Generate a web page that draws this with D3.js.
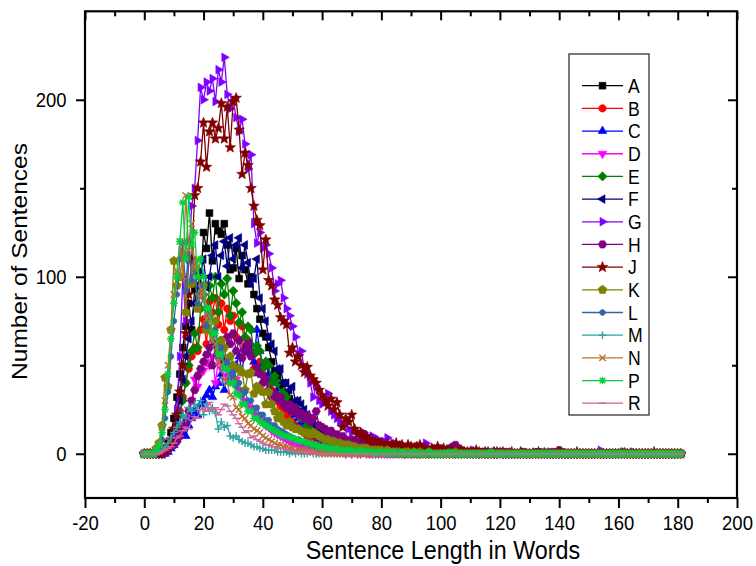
<!DOCTYPE html>
<html>
<head>
<meta charset="utf-8">
<script src="https://cdn.jsdelivr.net/npm/d3@7"></script>
<style>
body{margin:0;background:#fff;}
text{font-family:Arial,"Liberation Sans",sans-serif;fill:#000;}
</style>
</head>
<body>
<div id="chart"></div>
<script>
// sentence counts per length 0..181 words, one array per text
var seriesA=[
0,0,0,0,0,0,1,3,6,12,
20,32,45,60,72,85,70,93,103,95,
125,116,136,109,130,126,124,130,118,104,
105,116,99,112,104,96,100,90,82,76,
68,66,60,52,47,44,37,40,34,31,
28,26,24,21,19,17,15,14,12,11,
10,9,8,7,7,6,5,5,4,4,
3,3,3,2,2,2,2,1,1,2,
1,1,1,0,1,1,0,1,0,0,
1,0,0,1,0,0,0,0,1,0,
0,0,1,0,0,0,0,0,0,0,
0,0,0,0,1,0,0,0,0,0,
0,0,0,0,0,0,0,0,0,0,
0,0,0,1,0,0,0,0,0,0,
0,0,0,0,0,0,0,0,0,0,
0,0,0,0,0,0,0,0,0,0,
0,0,0,0,0,0,0,0,0,0,
0,0,0,0,0,0,0,0,0,0,
0,0];
var seriesB=[
0,0,0,0,0,0,0,1,3,6,
10,16,24,32,40,48,55,60,58,70,
76,62,86,80,88,73,85,70,82,75,
78,66,74,72,61,64,58,48,50,52,
45,42,40,36,33,30,27,25,22,20,
18,16,15,13,12,10,9,8,7,6,
5,5,4,4,3,3,3,2,2,2,
2,1,2,1,1,1,0,1,1,0,
1,0,0,1,0,0,0,1,0,0,
0,0,1,0,0,0,0,0,0,0,
0,0,0,0,0,0,1,0,0,0,
0,0,0,0,0,0,0,0,0,0,
0,0,0,0,0,0,0,0,0,0,
0,0,0,0,0,0,0,0,0,0,
0,0,0,0,0,0,0,0,0,0,
0,0,0,0,0,0,0,0,0,0,
0,0,0,0,0,0,0,0,0,0,
0,0,0,0,0,0,0,0,0,0,
0,0];
var seriesC=[
0,0,0,0,0,0,0,0,1,3,
5,8,15,12,10,16,20,24,22,28,
30,33,36,32,38,40,45,36,49,41,
44,50,55,46,60,57,62,52,70,58,
50,52,45,42,40,36,32,30,28,26,
24,22,20,18,16,14,12,11,10,9,
8,7,6,6,5,4,4,3,3,3,
2,2,2,2,1,1,1,1,1,0,
1,0,1,0,0,1,0,0,0,0,
0,0,0,1,0,0,0,0,0,0,
0,0,0,0,0,0,0,0,0,0,
0,0,0,0,0,0,0,0,1,0,
0,0,0,0,0,0,0,0,0,0,
0,0,0,0,0,0,0,0,0,0,
0,0,0,0,0,0,0,0,0,0,
0,0,0,0,0,0,0,0,0,0,
0,0,0,0,0,0,0,0,0,0,
0,0,0,0,0,0,0,0,0,0,
0,0];
var seriesD=[
0,0,0,0,0,0,0,0,2,4,
6,9,12,16,20,25,30,42,38,45,
47,52,50,55,40,53,48,50,44,46,
40,42,36,34,30,28,26,24,22,20,
18,16,15,13,12,11,10,9,8,7,
6,6,5,5,4,4,3,3,3,2,
2,2,2,1,1,1,1,1,0,1,
0,1,0,0,1,0,0,0,0,0,
0,0,0,0,0,1,0,0,0,0,
0,0,0,0,0,0,0,0,0,0,
0,0,0,0,0,0,0,0,0,0,
0,0,0,0,0,0,0,0,0,0,
0,0,0,0,0,0,0,0,0,0,
0,0,0,0,0,0,0,0,0,0,
0,0,0,0,0,0,0,0,0,0,
0,0,0,0,0,0,0,0,0,0,
0,0,0,0,0,0,0,0,0,0,
0,0,0,0,0,0,0,0,0,0,
0,0];
var seriesE=[
0,0,0,0,0,0,0,1,2,5,
9,15,22,30,40,50,58,68,60,82,
90,72,95,88,100,80,96,90,99,78,
92,85,74,80,66,72,70,56,61,58,
48,52,50,40,44,40,34,35,32,26,
28,26,24,20,20,16,16,15,13,12,
11,10,9,8,7,7,6,5,5,4,
4,3,3,3,2,2,2,2,1,2,
1,1,1,2,1,0,1,1,0,1,
0,1,0,0,1,0,0,1,0,0,
0,0,1,0,0,0,0,0,1,0,
0,0,0,0,0,0,0,0,0,0,
1,0,0,0,0,0,0,0,0,0,
0,0,0,0,0,1,0,0,0,0,
0,0,0,0,0,0,0,0,0,0,
0,0,0,0,0,0,0,0,0,0,
0,1,1,0,0,0,0,0,0,0,
0,0,0,0,0,0,0,0,0,0,
0,0];
var seriesF=[
0,0,0,0,0,0,0,1,3,6,
12,20,30,42,55,65,75,85,95,102,
110,94,100,112,118,100,112,120,106,122,
110,118,122,105,118,108,96,99,110,88,
82,75,66,62,58,48,48,40,40,36,
38,30,30,28,25,22,20,18,16,15,
13,12,11,10,9,8,7,7,6,5,
5,4,4,3,3,3,2,2,2,2,
2,1,1,1,2,1,1,0,1,1,
0,1,0,0,1,0,0,0,1,0,
0,0,0,1,0,0,0,0,0,0,
0,0,0,0,0,0,0,0,0,0,
0,0,0,0,0,0,0,0,0,0,
0,0,0,0,0,0,0,0,0,0,
0,0,0,0,0,0,0,0,0,0,
0,0,0,0,0,0,0,0,0,0,
0,0,0,0,0,0,0,0,0,0,
0,0,0,0,0,0,0,0,0,0,
0,0];
var seriesG=[
0,0,0,0,0,0,0,0,2,5,
10,25,55,100,75,110,140,150,177,207,
200,210,205,212,199,217,210,224,203,195,
200,190,182,189,175,161,169,130,119,125,
116,118,113,105,92,96,98,88,82,78,
72,66,56,58,48,45,40,32,38,30,
28,30,34,24,22,20,18,16,17,14,
12,13,11,10,12,9,8,10,7,8,
6,7,9,5,6,5,4,5,4,3,
4,3,4,3,4,6,3,2,3,2,
3,2,2,1,2,2,1,2,1,1,
1,2,1,1,0,1,1,0,1,0,
0,1,0,0,1,0,0,0,1,0,
0,0,1,0,0,0,0,1,0,0,
0,1,0,0,0,0,0,0,0,0,
0,0,0,0,2,0,0,0,0,0,
0,0,0,0,0,1,0,0,0,0,
0,0,0,0,0,0,0,0,0,0,
0,0];
var seriesH=[
0,0,0,0,0,0,0,1,2,4,
5,7,10,14,18,24,30,36,44,48,
52,56,60,50,62,56,64,52,66,62,
68,58,64,54,58,62,55,46,48,45,
40,42,36,32,34,30,32,28,26,28,
24,26,22,23,20,22,18,20,24,16,
15,14,12,13,10,11,9,10,8,7,
8,6,7,6,5,6,5,4,5,4,
4,3,4,3,3,4,3,2,3,3,
2,3,2,2,3,2,2,1,2,2,
2,1,2,3,4,5,3,2,1,1,
1,1,0,1,1,0,1,0,0,1,
0,0,1,0,0,0,0,0,1,0,
0,0,0,0,0,0,0,0,1,0,
2,1,0,0,0,0,0,0,0,0,
0,0,0,0,0,0,0,0,0,0,
0,0,0,0,0,0,0,0,0,0,
0,0,0,0,0,0,0,0,0,0,
0,0];
var seriesJ=[
0,0,0,0,0,0,1,2,4,8,
14,22,35,50,68,90,110,146,150,165,
187,162,182,187,178,184,198,178,196,173,
199,201,183,158,170,163,150,140,132,129,
104,121,98,95,87,84,77,75,73,57,
60,52,55,50,46,49,44,42,40,36,
33,30,27,31,25,29,22,15,20,18,
22,14,11,12,9,10,8,7,7,6,
6,5,6,4,5,6,4,5,3,5,
4,3,4,5,3,3,2,3,2,4,
2,3,2,1,2,2,1,2,1,1,
1,1,2,1,0,1,1,0,1,1,
0,1,0,0,1,0,0,1,0,0,
0,0,0,1,0,0,0,0,0,0,
1,0,0,0,0,0,1,0,0,0,
0,0,0,0,0,0,0,0,0,0,
0,0,0,0,0,0,0,0,0,0,
0,0,1,0,0,0,0,0,0,0,
0,0];
var seriesK=[
0,0,0,0,3,6,16,43,38,70,
109,95,100,113,80,120,96,105,82,90,
95,70,78,68,75,58,64,60,50,55,
50,40,48,46,36,45,46,34,38,36,
35,28,35,28,24,20,22,18,16,18,
15,14,14,13,12,12,11,12,11,10,
9,8,8,7,7,6,6,5,5,5,
4,4,3,3,3,3,2,2,2,2,
2,1,2,1,1,1,1,0,1,1,
0,1,0,1,0,0,1,0,0,0,
0,0,0,0,0,1,0,0,0,0,
0,0,0,0,0,0,0,0,0,0,
0,0,0,0,0,0,0,0,0,0,
0,0,0,0,0,0,0,0,0,0,
0,0,0,0,0,0,0,0,0,0,
0,0,0,0,0,0,0,0,0,0,
0,0,0,0,0,0,0,0,0,0,
0,0,0,0,0,0,0,0,0,0,
0,0];
var seriesL=[
0,0,0,0,0,2,8,20,35,55,
75,90,110,119,92,120,98,108,85,95,
89,72,78,64,70,58,60,50,52,44,
46,38,40,33,35,30,30,25,26,22,
22,19,19,16,16,14,13,12,11,10,
9,8,8,7,6,6,5,5,4,4,
4,3,3,3,2,2,2,2,1,2,
1,1,1,1,0,1,0,1,0,0,
0,1,0,0,0,0,1,0,0,0,
0,0,0,0,0,0,0,0,0,0,
0,0,0,0,0,0,0,0,0,0,
0,0,0,0,0,0,0,0,0,0,
0,0,0,0,0,0,0,0,0,0,
0,0,0,0,0,0,0,0,0,0,
0,0,0,0,0,0,0,0,0,0,
0,0,0,0,0,0,0,0,0,0,
0,0,0,0,0,0,0,0,0,0,
0,0,0,0,0,0,0,0,0,0,
0,0];
var seriesM=[
0,0,0,0,0,1,2,4,6,9,
12,15,18,22,20,26,24,28,25,30,
22,28,24,26,23,14,18,15,16,10,
9,10,8,7,6,6,5,4,4,3,
3,2,2,2,2,1,1,1,1,0,
1,0,1,0,0,0,1,0,0,0,
0,0,0,0,0,0,0,0,0,0,
0,0,0,0,0,0,0,0,0,0,
0,0,0,0,0,0,0,0,0,0,
0,0,0,0,0,0,0,0,0,0,
0,0,0,0,0,0,0,0,0,0,
0,0,0,0,0,0,0,0,0,0,
0,0,0,0,0,0,0,0,0,0,
0,0,0,0,0,0,0,0,0,0,
0,0,0,0,0,0,0,0,0,0,
0,0,0,0,0,0,0,0,0,0,
0,0,0,0,0,0,0,0,0,0,
0,0,0,0,0,0,0,0,0,0,
0,0];
var seriesN=[
0,0,0,0,2,6,15,30,50,70,
90,103,120,100,146,115,130,105,110,88,
92,76,78,64,62,52,50,42,40,33,
32,26,25,21,20,17,16,14,13,12,
10,9,8,7,6,5,5,4,4,3,
3,2,2,2,2,1,1,1,1,0,
1,0,0,1,0,0,0,0,0,0,
0,0,0,0,0,0,0,0,0,0,
0,0,0,0,0,0,0,0,0,0,
0,0,0,0,0,0,0,0,0,0,
0,0,0,0,0,0,0,0,0,0,
0,0,0,0,0,0,0,0,0,0,
0,0,0,0,0,0,0,0,0,0,
0,0,0,0,0,0,0,0,0,0,
0,0,0,0,0,0,0,0,0,0,
0,0,0,0,0,0,0,0,0,0,
0,0,0,0,0,0,0,0,0,0,
0,0,0,0,0,0,0,0,0,0,
0,0];
var seriesP=[
0,0,0,0,2,5,12,25,45,65,
85,100,120,142,110,145,118,125,100,110,
100,82,82,68,68,56,56,48,48,40,
40,34,33,28,28,24,24,20,20,18,
17,16,15,14,13,12,11,10,10,9,
9,8,8,7,7,6,6,5,5,4,
4,4,3,3,3,3,2,2,2,2,
2,1,1,2,1,1,1,1,0,1,
1,0,1,0,1,0,0,1,0,0,
0,1,0,0,0,0,1,0,0,0,
0,0,0,1,0,0,0,0,0,0,
0,0,0,0,0,0,0,1,0,0,
0,0,0,0,0,0,0,0,0,0,
0,0,0,0,0,0,0,0,0,0,
0,0,0,0,0,0,0,0,0,0,
0,0,0,0,0,0,0,0,0,0,
0,0,0,0,0,0,0,0,0,0,
0,0,0,0,0,0,0,0,0,0,
0,0];
var seriesR=[
0,0,0,0,0,0,1,2,3,4,
6,9,10,13,15,14,19,21,20,25,
26,24,29,25,26,22,25,28,27,24,
22,20,17,15,12,13,9,10,8,7,
6,5,5,4,4,3,3,3,2,2,
2,1,1,1,1,0,1,0,0,0,
0,0,0,0,0,0,0,0,0,0,
0,0,0,0,0,0,0,0,0,0,
0,0,0,0,0,0,0,0,0,0,
0,0,0,0,0,0,0,0,0,0,
0,0,0,0,0,0,0,0,0,0,
0,0,0,0,0,0,0,0,0,0,
0,0,0,0,0,0,0,0,0,0,
0,0,0,0,0,0,0,0,0,0,
0,0,0,0,0,0,0,0,0,0,
0,0,0,0,0,0,0,0,0,0,
0,0,0,0,0,0,0,0,0,0,
0,0,0,0,0,0,0,0,0,0,
0,0];

var names=["A","B","C","D","E","F","G","H","J","K","L","M","N","P","R"];
var xTicks=[-20,0,20,40,60,80,100,120,140,160,180,200];
var xMinor=[-10,10,30,50,70,90,110,130,150,170,190];
var yTicks=[0,100,200];
var yMinor=[50,150];

var series=[seriesA,seriesB,seriesC,seriesD,seriesE,seriesF,seriesG,seriesH,
            seriesJ,seriesK,seriesL,seriesM,seriesN,seriesP,seriesR];
var colors=["#000000","#ff0000","#0000ff","#ff00ff","#008000","#000080","#8000ff",
            "#800080","#800000","#808000","#3366a6","#2fa3a3","#b87333","#00d040","#cc6699"];

var W=756,H=566;
var plot={left:85,right:737,top:11.3,bottom:498};
var squeezeK=0.88;

var x=d3.scaleLinear().domain([-20,200]).range([plot.left,plot.right]);
var y=d3.scaleLinear().domain([-25,250]).range([plot.bottom,plot.top]);

var svg=d3.select("#chart").append("svg")
    .attr("width",W)
    .attr("height",H);
svg.append("rect").attr("width",W).attr("height",H).attr("fill","#fff");

// marker shapes
function poly(n,r,a0){
    var pts=d3.range(n).map(function(i){
        var a=a0+i*2*Math.PI/n;
        return [(r*Math.cos(a)).toFixed(2),(r*Math.sin(a)).toFixed(2)];
    });
    return "M"+pts.join("L")+"Z";
}
function star(r1,r2){
    var pts=d3.range(10).map(function(i){
        var r=i%2?r2:r1,a=-Math.PI/2+i*Math.PI/5;
        return [(r*Math.cos(a)).toFixed(2),(r*Math.sin(a)).toFixed(2)];
    });
    return "M"+pts.join("L")+"Z";
}
var up=-Math.PI/2;
var markers=[
    {d:poly(4,4.8,Math.PI/4),fill:true},
    {d:poly(24,3.7,0),fill:true},
    {d:poly(3,5,up),fill:true},
    {d:poly(3,5,Math.PI/2),fill:true},
    {d:poly(4,4.7,0),fill:true},
    {d:poly(3,5,Math.PI),fill:true},
    {d:poly(3,5,0),fill:true},
    {d:poly(6,4.2,0),fill:true},
    {d:star(5.6,2.4),fill:true},
    {d:poly(5,4.6,up),fill:true},
    {d:poly(20,2.9,0),fill:true},
    {d:"M-3.8,0H3.8M0,-3.8V3.8",fill:false},
    {d:"M-3.2,-3.2L3.2,3.2M-3.2,3.2L3.2,-3.2",fill:false},
    {d:"M-3.8,0H3.8M0,-3.8V3.8M-2.8,-2.8L2.8,2.8M-2.8,2.8L2.8,-2.8",fill:false},
    {d:"M-3.8,0H3.8",fill:false}
];
function styleMarker(sel,k){
    var m=markers[k];
    sel.attr("d",m.d)
        .attr("fill",m.fill?colors[k]:"none")
        .attr("stroke",colors[k])
        .attr("stroke-width",m.fill?0.6:1.4);
}

// data
var line=d3.line()
    .x(function(d,i){ return x(i); })
    .y(function(d){ return y(d); });

series.forEach(function(vals,k){
    var g=svg.append("g").attr("class","series");
    g.append("path")
        .attr("d",line(vals))
        .attr("fill","none")
        .attr("stroke",colors[k])
        .attr("stroke-width",1.3)
        .attr("stroke-linejoin","round");
    g.selectAll(".mk").data(vals).enter()
        .append("path")
        .attr("class","mk")
        .attr("transform",function(d,i){ return "translate("+x(i)+","+y(d)+")"; })
        .call(styleMarker,k);
});

function squeeze(sel){
    sel.each(function(){
        var w=this.getComputedTextLength();
        d3.select(this).attr("textLength",w*squeezeK).attr("lengthAdjust","spacingAndGlyphs");
    });
}
function tidy(g){
    g.select(".domain").remove();
    g.selectAll("line").attr("stroke","#000").attr("stroke-width",2);
    g.attr("font-family",null).attr("font-size",21);
}
function plain(d){ return String(d); }

// axes
var gx=svg.append("g").attr("transform","translate(0,"+plot.bottom+")")
    .call(d3.axisBottom(x).tickValues(xTicks).tickFormat(plain).tickSize(10).tickPadding(7).tickSizeOuter(0))
    .call(tidy);
svg.append("g").attr("transform","translate(0,"+plot.bottom+")")
    .call(d3.axisBottom(x).tickValues(xMinor).tickSize(5).tickFormat(""))
    .call(tidy);
svg.append("g").attr("transform","translate(0,"+plot.top+")")
    .call(d3.axisTop(x).tickValues(xTicks).tickSize(-9).tickFormat(""))
    .call(tidy);
svg.append("g").attr("transform","translate(0,"+plot.top+")")
    .call(d3.axisTop(x).tickValues(xMinor).tickSize(-5).tickFormat(""))
    .call(tidy);

var gy=svg.append("g").attr("transform","translate("+plot.left+",0)")
    .call(d3.axisLeft(y).tickValues(yTicks).tickFormat(plain).tickSize(9).tickPadding(9.5))
    .call(tidy);
svg.append("g").attr("transform","translate("+plot.left+",0)")
    .call(d3.axisLeft(y).tickValues(yMinor).tickSize(5).tickFormat(""))
    .call(tidy);
svg.append("g").attr("transform","translate("+plot.right+",0)")
    .call(d3.axisRight(y).tickValues(yTicks).tickSize(-9).tickFormat(""))
    .call(tidy);
svg.append("g").attr("transform","translate("+plot.right+",0)")
    .call(d3.axisRight(y).tickValues(yMinor).tickSize(-5).tickFormat(""))
    .call(tidy);

gx.selectAll("text").attr("fill","#000").call(squeeze);
gy.selectAll("text").attr("fill","#000").call(squeeze);

svg.append("rect")
    .attr("x",plot.left).attr("y",plot.top)
    .attr("width",plot.right-plot.left).attr("height",plot.bottom-plot.top)
    .attr("fill","none").attr("stroke","#000").attr("stroke-width",2.2);

// titles
svg.append("text")
    .attr("x",443).attr("y",558.5)
    .attr("text-anchor","middle")
    .attr("font-size",26.5)
    .text("Sentence Length in Words")
    .call(squeeze);
svg.append("text")
    .attr("transform","translate(26.7,261.5) scale("+squeezeK+",1) rotate(-90)")
    .attr("text-anchor","middle")
    .attr("font-size",24.5)
    .text("Number of Sentences");

// legend
var legend=svg.append("g");
legend.append("rect")
    .attr("x",569).attr("y",54).attr("width",80).attr("height",361)
    .attr("fill","#fff").attr("stroke","#333").attr("stroke-width",1.3);
names.forEach(function(n,k){
    var yy=85.7+k*22.68;
    legend.append("line")
        .attr("x1",582).attr("x2",623).attr("y1",yy).attr("y2",yy)
        .attr("stroke",colors[k]).attr("stroke-width",1.3);
    legend.append("path")
        .attr("transform","translate(602.5,"+yy+")")
        .call(styleMarker,k);
    legend.append("text")
        .attr("x",628).attr("y",yy+7.2)
        .attr("font-size",20)
        .text(n)
        .call(squeeze);
});
</script>
</body>
</html>
